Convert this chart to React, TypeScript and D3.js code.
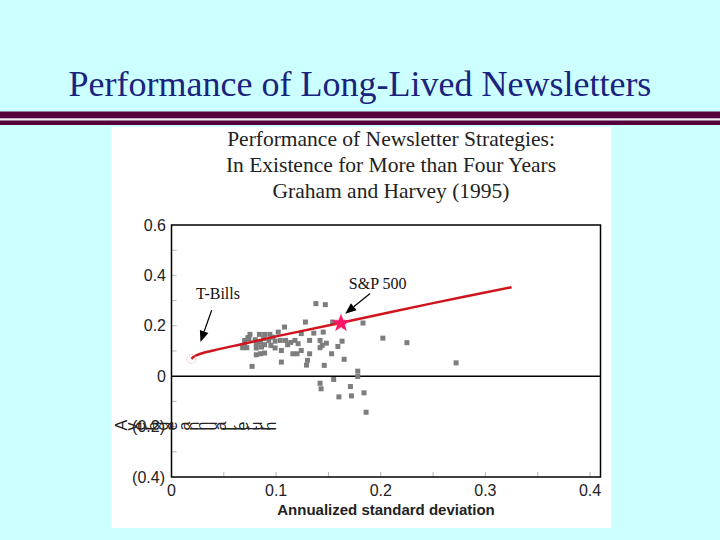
import React from "react";
import * as d3 from "d3";

const pageTitle = "Performance of Long-Lived Newsletters";
const chartTitleLines = [
  "Performance of Newsletter Strategies:",
  "In Existence for More than Four Years",
  "Graham and Harvey (1995)",
];
const xAxisTitle = "Annualized standard deviation";
const yAxisTitle = "Average annual return";

const xTickValues = [0, 0.1, 0.2, 0.3, 0.4];
const xTickLabels = ["0", "0.1", "0.2", "0.3", "0.4"];
const yTickValues = [0.6, 0.4, 0.2, 0, -0.2, -0.4];
const yTickLabels = ["0.6", "0.4", "0.2", "0", "(0.2)", "(0.4)"];
const xMinorTicks = [0.05, 0.1, 0.15, 0.2, 0.25, 0.3, 0.35, 0.4];
const yMinorTicks = [-0.3, -0.2, -0.1, 0.1, 0.2, 0.3, 0.4, 0.5];

// Newsletter strategies: [std dev, average return]
const newsletterStd = [
  0.108, 0.128, 0.075, 0.084, 0.089, 0.094, 0.102, 0.073, 0.07, 0.07,
  0.08, 0.085, 0.088, 0.093, 0.097, 0.104, 0.109, 0.114, 0.118, 0.111,
  0.121, 0.081, 0.089, 0.095, 0.072, 0.081, 0.086, 0.099, 0.085, 0.089,
  0.081, 0.116, 0.12, 0.124, 0.105, 0.077, 0.138, 0.147, 0.183, 0.154,
  0.136, 0.145, 0.132, 0.142, 0.148, 0.163, 0.144, 0.159, 0.132, 0.153,
  0.13, 0.165, 0.146, 0.129, 0.178, 0.178, 0.155, 0.142, 0.143, 0.171,
  0.184, 0.16, 0.172, 0.186, 0.202, 0.225, 0.272, 0.068, 0.074, 0.124,
  0.142, 0.105, 0.099,
];
const newsletterReturn = [
  0.195, 0.215, 0.166, 0.166, 0.166, 0.166, 0.175, 0.153, 0.142, 0.131,
  0.145, 0.135, 0.149, 0.142, 0.155, 0.142, 0.142, 0.134, 0.142, 0.125,
  0.129, 0.129, 0.125, 0.122, 0.113, 0.112, 0.116, 0.112, 0.089, 0.092,
  0.085, 0.089, 0.089, 0.102, 0.056, 0.039, 0.288, 0.284, 0.211, 0.215,
  0.171, 0.175, 0.142, 0.142, 0.131, 0.139, 0.122, 0.118, 0.089, 0.089,
  0.063, 0.067, 0.043, 0.044, 0.02, -0.001, -0.013, -0.028, -0.05, -0.041,
  -0.066, -0.082, -0.078, -0.143, 0.151, 0.133, 0.053, 0.113, 0.149, 0.169,
  0.113, 0.102, 0.139,
];

// Capital market line from T-Bills through S&P 500
const frontierStd = [0.019, 0.022, 0.027, 0.04, 0.07, 0.1, 0.162, 0.25, 0.325];
const frontierReturn = [0.069, 0.079, 0.088, 0.102, 0.13, 0.158, 0.212, 0.29, 0.353];

const tBills = { std: 0.019, ret: 0.069, label: "T-Bills", labelStd: 0.0445, labelRet: 0.306, arrowFrom: [0.0384, 0.262], arrowTo: [0.0277, 0.136] };
const sp500 = { std: 0.162, ret: 0.21, label: "S&P 500", labelStd: 0.197, labelRet: 0.347, arrowFrom: [0.1898, 0.328], arrowTo: [0.166, 0.248] };

const W = 720;
const H = 540;

export default function App() {
  const x = d3.scaleLinear().domain([0, 0.41]).range([171.5, 600.5]);
  const y = d3.scaleLinear().domain([-0.4, 0.6]).range([477, 225]);

  const lineGen = d3
    .line<number>()
    .x((_, i) => x(frontierStd[i]))
    .y((d) => y(d))
    .curve(d3.curveCatmullRom);

  const star = d3.symbol().type(d3.symbolStar).size(110)();

  const arrow = (from: number[], to: number[]) => {
    const x1 = x(from[0]), y1 = y(from[1]);
    const x2 = x(to[0]), y2 = y(to[1]);
    const ang = Math.atan2(y2 - y1, x2 - x1);
    const L = 11, hw = 4.5;
    const bx = x2 - L * Math.cos(ang), by = y2 - L * Math.sin(ang);
    const p1 = [bx + hw * Math.sin(ang), by - hw * Math.cos(ang)];
    const p2 = [bx - hw * Math.sin(ang), by + hw * Math.cos(ang)];
    return (
      <g>
        <line x1={x1} y1={y1} x2={bx} y2={by} stroke="#000" strokeWidth={1.2} />
        <polygon points={`${x2},${y2} ${p1[0]},${p1[1]} ${p2[0]},${p2[1]}`} fill="#000" />
      </g>
    );
  };

  const [r0, r1] = x.range();
  const [b0, t0] = y.range();

  return (
    <svg
      width={W}
      height={H}
      style={{ position: "fixed", left: 0, top: 0, background: "#ccffff" }}
    >
      <rect x={0} y={0} width={W} height={H} fill="#ccffff" />
      <text
        x={360}
        y={96}
        textAnchor="middle"
        fontFamily="Liberation Serif, Times New Roman, serif"
        fontSize={36}
        fill="#1b237e"
      >
        {pageTitle}
      </text>
      <rect x={0} y={111.5} width={W} height={7} fill="#55003a" />
      <rect x={0} y={118.5} width={W} height={2} fill="#f4e8ee" />
      <rect x={0} y={120.5} width={W} height={4.5} fill="#55003a" />

      <rect x={111} y={127} width={500} height={401} fill="#ffffff" />

      {chartTitleLines.map((t, i) => (
        <text
          key={i}
          x={391}
          y={146 + i * 26}
          textAnchor="middle"
          fontFamily="Liberation Serif, Times New Roman, serif"
          fontSize={21.5}
          fill="#222"
        >
          {t}
        </text>
      ))}

      {/* minor ticks */}
      {yMinorTicks.map((v) => (
        <line key={"ym" + v} x1={r0} x2={r0 + 5} y1={y(v)} y2={y(v)} stroke="#b5b5b5" strokeWidth={1} />
      ))}
      {xMinorTicks.map((v) => (
        <line key={"xm" + v} x1={x(v)} x2={x(v)} y1={b0} y2={b0 - 5} stroke="#b5b5b5" strokeWidth={1} />
      ))}

      {/* frame */}
      <rect x={r0} y={t0} width={r1 - r0} height={b0 - t0} fill="none" stroke="#000" strokeWidth={1.5} />
      <line x1={r0} x2={r1} y1={y(0)} y2={y(0)} stroke="#000" strokeWidth={1.5} />

      {/* scatter */}
      {newsletterStd.map((s, i) => (
        <rect
          key={"p" + i}
          x={x(s) - 2.5}
          y={y(newsletterReturn[i]) - 2.5}
          width={5}
          height={5}
          fill="#7d7d7d"
        />
      ))}

      {/* frontier line */}
      <path d={lineGen(frontierReturn) || ""} fill="none" stroke="#d0141e" strokeWidth={2.5} />
      <circle cx={x(tBills.std)} cy={y(tBills.ret)} r={4.5} fill="none" stroke="#f4a0a0" strokeWidth={1} strokeDasharray="1.5,1.5" />
      <circle cx={x(sp500.std)} cy={y(sp500.ret)} r={6} fill="#ff6fa0" opacity={0.35} />
      <path d={star || ""} transform={`translate(${x(sp500.std)},${y(sp500.ret)})`} fill="#ff1466" />

      {/* annotations */}
      <text x={x(tBills.labelStd)} y={y(tBills.labelRet)} textAnchor="middle" fontFamily="Liberation Serif, Times New Roman, serif" fontSize={16} fill="#111">
        {tBills.label}
      </text>
      {arrow(tBills.arrowFrom, tBills.arrowTo)}
      <text x={x(sp500.labelStd)} y={y(sp500.labelRet)} textAnchor="middle" fontFamily="Liberation Serif, Times New Roman, serif" fontSize={16} fill="#111">
        {sp500.label}
      </text>
      {arrow(sp500.arrowFrom, sp500.arrowTo)}

      {/* tick labels */}
      {yTickValues.map((v, i) => (
        <text
          key={"yl" + i}
          x={v < 0 ? 165 : 166}
          y={y(v) + 5.5}
          textAnchor="end"
          fontFamily="Liberation Sans, Arial, sans-serif"
          fontSize={16}
          fill="#222"
        >
          {yTickLabels[i]}
        </text>
      ))}
      {xTickValues.map((v, i) => (
        <text
          key={"xl" + i}
          x={x(v)}
          y={496}
          textAnchor="middle"
          fontFamily="Liberation Sans, Arial, sans-serif"
          fontSize={16}
          fill="#222"
        >
          {xTickLabels[i]}
        </text>
      ))}

      <text
        x={386}
        y={515}
        textAnchor="middle"
        fontFamily="Liberation Sans, Arial, sans-serif"
        fontSize={15}
        fontWeight="bold"
        fill="#222"
      >
        {xAxisTitle}
      </text>

      {/* garbled rotated-glyph y-axis title as in the original */}
      <text
        x={126.5}
        y={430.5}
        rotate="-90"
        fontFamily="Liberation Sans, Arial, sans-serif"
        fontSize={16}
        fill="#222"
      >
        {yAxisTitle}
      </text>
    </svg>
  );
}
